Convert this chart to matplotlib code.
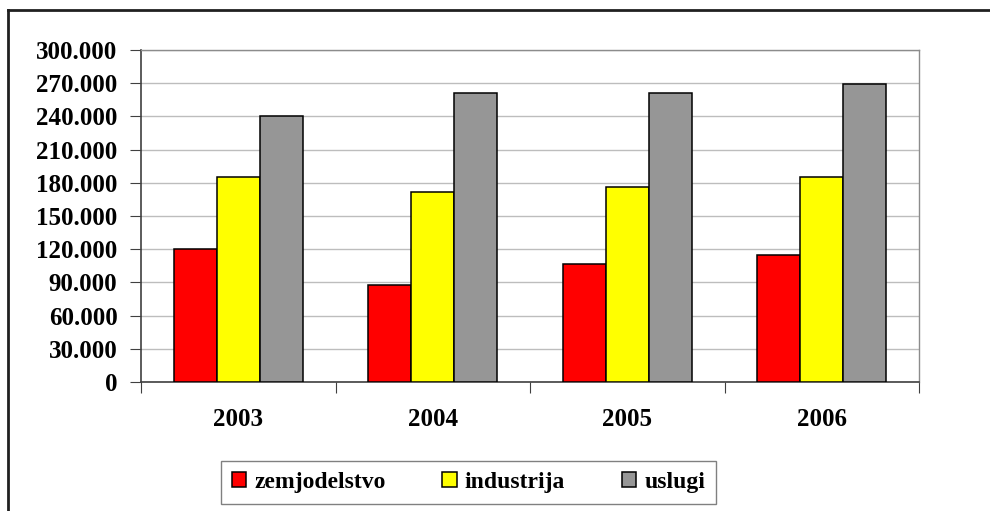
import numpy as np
import matplotlib.pyplot as plt
from matplotlib.lines import Line2D
from matplotlib.ticker import FuncFormatter

# godini i vrednosti po sektori
godini = ['2003', '2004', '2005', '2006']
zemjodelstvo = [120000, 88000, 106500, 114500]
industrija = [185000, 172000, 176000, 185000]
uslugi = [240000, 261500, 261500, 269000]

serii = [('zemjodelstvo', zemjodelstvo, '#FF0000'),
         ('industrija', industrija, '#FFFF00'),
         ('uslugi', uslugi, '#969696')]

font = 'Liberation Serif'
fs = 18

fig = plt.figure(figsize=(9.9, 5.11), dpi=100)
ax = fig.add_axes([141/990, 1-382/511, (919-141)/990, (382-50)/511])

x = np.arange(len(godini))
w = 0.221
for i, (ime, vred, boja) in enumerate(serii):
    ax.bar(x + (i-1)*w, vred, w, color=boja, edgecolor='black', linewidth=1.1,
           label=ime, zorder=3)

ax.set_xlim(-0.5, 3.5)
ax.set_ylim(0, 300000)
ax.set_yticks(np.arange(0, 300001, 30000))
ax.yaxis.set_major_formatter(FuncFormatter(lambda v, p: '0' if v == 0 else f'{int(v):,}'.replace(',', '.')))
ax.grid(axis='y', color='#bdbdbd', linewidth=1, zorder=0)

# tikovi megju kategoriite, oznaki vo sredina
ax.set_xticks(np.arange(-0.5, 3.6, 1))
ax.set_xticklabels([])
ax.set_xticks(x, minor=True)
ax.set_xticklabels(godini, minor=True)
ax.tick_params(axis='x', which='minor', length=0, pad=19)
ax.tick_params(axis='x', which='major', length=8, direction='out', color='#404040')
ax.tick_params(axis='y', length=8, direction='out', color='#404040', pad=9)

for lab in ax.get_xticklabels(minor=True) + ax.get_yticklabels():
    lab.set_fontfamily(font)
    lab.set_fontweight('bold')
    lab.set_fontsize(fs)

for s in ['left', 'bottom']:
    ax.spines[s].set_color('#404040')
    ax.spines[s].set_linewidth(1.2)
for s in ['top', 'right']:
    ax.spines[s].set_color('#8c8c8c')
    ax.spines[s].set_linewidth(1.0)

leg = ax.legend(loc='center', bbox_to_anchor=(468.5/990, 1-482.5/511),
                bbox_transform=fig.transFigure, ncol=3, frameon=True, fancybox=False,
                handlelength=0.6, handleheight=0.6, handletextpad=0.35,
                columnspacing=2.4, borderpad=0.45,
                prop={'family': font, 'weight': 'bold', 'size': 17})
leg.get_frame().set_edgecolor('#606060')
leg.get_frame().set_linewidth(1.0)

# okvir na grafikonot (gore i levo)
fig.add_artist(Line2D([8/990, 1], [1-10/511, 1-10/511], color='#202020', linewidth=2))
fig.add_artist(Line2D([8/990, 8/990], [0, 1-10/511], color='#202020', linewidth=2))

fig.savefig('out.png', dpi=100)
